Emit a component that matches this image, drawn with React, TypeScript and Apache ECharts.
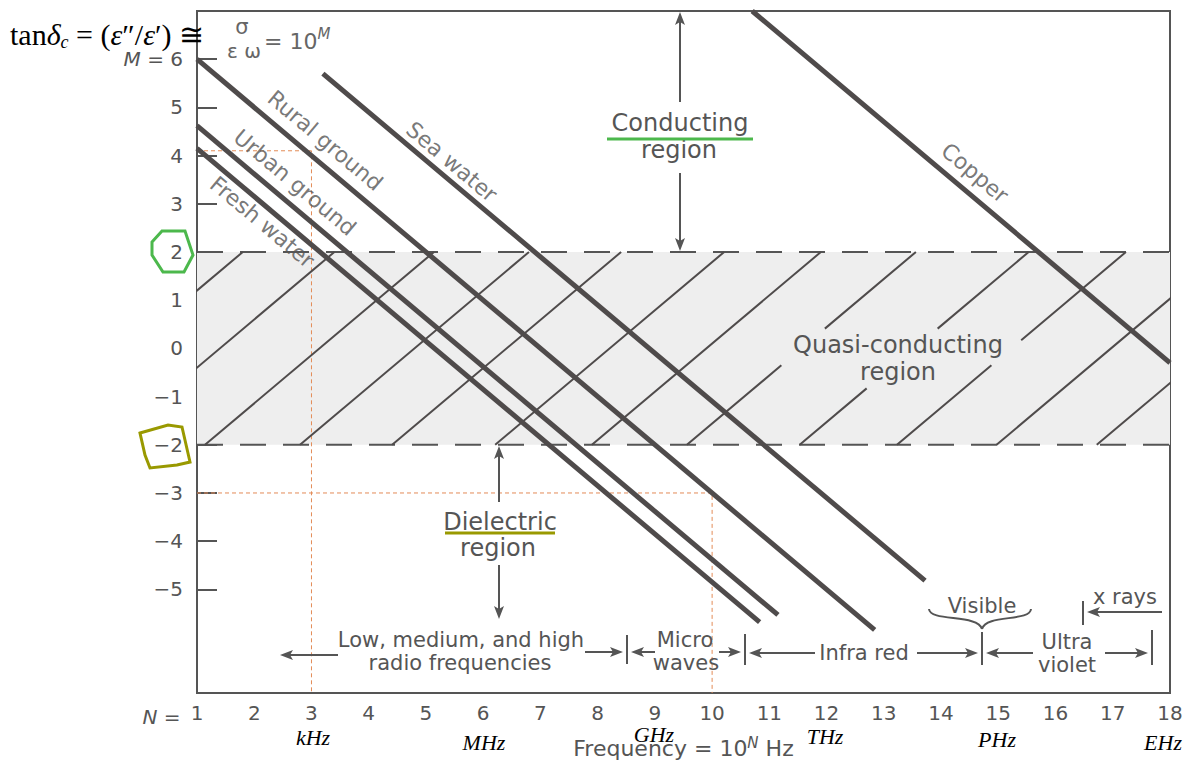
import React, { useEffect, useRef } from "react";
import * as echarts from "echarts";

// ---------- data ----------
const nLabelValues = [1, 2, 3, 4, 5, 6, 7, 8, 9, 10, 11, 12, 13, 14, 15, 16, 17, 18];
const nTickValues = [2, 3, 4, 5, 6, 7, 8, 9, 10, 11, 12, 13, 14, 15, 16, 17];
const mTickValues = [-5, -4, -3, -2, -1, 0, 1, 2, 3, 4, 5, 6];

const ruralGround = [[1, 6.0], [12.84, -5.84]];
const urbanGround = [[1, 4.62], [11.15, -5.53]];
const freshWater = [[1, 4.15], [10.83, -5.68]];
const seaWater = [[3.2, 5.7], [13.72, -4.82]];
const copper = [[10.7, 7.0], [18, -0.3]];

const media = [
  { name: "Rural ground", data: ruralGround },
  { name: "Urban ground", data: urbanGround },
  { name: "Fresh water", data: freshWater },
  { name: "Sea water", data: seaWater },
  { name: "Copper", data: copper },
];

const lineLabelNames = ["Rural ground", "Urban ground", "Fresh water", "Sea water", "Copper"];
const lineLabelN = [3.24, 2.71, 2.14, 5.45, 14.59];
const lineLabelM = [4.31, 3.44, 2.62, 3.87, 3.64];

// hatch segments in the quasi-conducting band [[N, M], [N, M]]
const hatchSegments = [
  [[-2.2, -2], [1.8, 2]],
  [[-0.6, -2], [3.4, 2]],
  [[1.14, -2], [5.14, 2]],
  [[2.8, -2], [6.8, 2]],
  [[4.41, -2], [8.41, 2]],
  [[6.21, -2], [10.21, 2]],
  [[7.9, -2], [11.9, 2]],
  [[9.56, -2], [11.21, -0.35]],
  [[11.97, 0.41], [13.56, 2]],
  [[11.53, -2], [12.7, -0.83]],
  [[13.94, 0.41], [15.53, 2]],
  [[13.23, -2], [14.88, -0.35]],
  [[15.4, 0.17], [17.23, 2]],
  [[14.97, -2], [18.97, 2]],
  [[16.72, -2], [20.72, 2]],
];

const bandLimits = [-2, 2];
const guideLineA = [[1, 4.1], [3, 4.1], [3, -7.15]];
const guideLineB = [[1, -3], [10, -3], [10, -7.15]];

const M_MIN = -7.15;
const M_MAX = 7.0;

// ---------- styles ----------
const FONT = '"DejaVu Sans", "Liberation Sans", sans-serif';
const SERIF = '"Liberation Serif", "DejaVu Serif", serif';
const INK = "#555555";
const LINE = "#4f4b4b";

function arrow(x1: number, y1: number, x2: number, y2: number) {
  const dx = x2 - x1;
  const dy = y2 - y1;
  const L = Math.hypot(dx, dy);
  const ux = dx / L;
  const uy = dy / L;
  const hl = 13;
  const hw = 5;
  const bx = x2 - ux * hl;
  const by = y2 - uy * hl;
  return [
    {
      type: "line",
      shape: { x1, y1, x2: bx + ux * 3, y2: by + uy * 3 },
      style: { stroke: INK, lineWidth: 2 },
      silent: true,
    },
    {
      type: "polygon",
      shape: {
        points: [
          [x2, y2],
          [bx - uy * hw, by + ux * hw],
          [bx + ux * 3, by + uy * 3],
          [bx + uy * hw, by - ux * hw],
        ],
      },
      style: { fill: INK },
      silent: true,
    },
  ];
}

function txt(text: string, x: number, y: number, size: number, extra: any = {}) {
  return {
    type: "text",
    x,
    y,
    silent: true,
    style: {
      text,
      font: `${size}px ${FONT}`,
      fill: INK,
      align: "center",
      verticalAlign: "middle",
      ...extra,
    },
  };
}

function vtick(x: number, y1: number, y2: number) {
  return {
    type: "line",
    shape: { x1: x, y1, x2: x, y2 },
    style: { stroke: INK, lineWidth: 2 },
    silent: true,
  };
}

export default function App() {
  const ref = useRef<HTMLDivElement>(null);

  useEffect(() => {
    if (!ref.current) return;
    const chart = echarts.init(ref.current, null, { renderer: "svg" });

    const series: any[] = [];

    // band fill + dashed limits
    bandLimits.forEach((m, i) => {
      series.push({
        type: "line",
        data: [[1, m], [18, m]],
        symbol: "none",
        silent: true,
        z: 3,
        lineStyle: { color: INK, width: 2, type: [26, 17] },
        markArea:
          i === 0
            ? {
                silent: true,
                itemStyle: { color: "#eeeeee" },
                data: [[{ yAxis: bandLimits[0] }, { yAxis: bandLimits[1] }]],
              }
            : undefined,
      });
    });

    // orange guide lines
    [guideLineA, guideLineB].forEach((d) => {
      series.push({
        type: "line",
        data: d,
        symbol: "none",
        silent: true,
        z: 2,
        lineStyle: { color: "#e38b57", width: 1, type: [4, 3] },
      });
    });

    // hatch
    hatchSegments.forEach((seg) => {
      series.push({
        type: "line",
        data: seg,
        symbol: "none",
        silent: true,
        clip: true,
        z: 4,
        lineStyle: { color: LINE, width: 2 },
      });
    });

    // media lines
    media.forEach((m) => {
      series.push({
        type: "line",
        name: m.name,
        data: m.data,
        symbol: "none",
        silent: true,
        clip: true,
        z: 5,
        lineStyle: { color: LINE, width: 5, cap: "butt" },
      });
    });

    // line labels
    series.push({
      type: "scatter",
      symbolSize: 0,
      silent: true,
      z: 6,
      data: lineLabelNames.map((name, i) => ({ name, value: [lineLabelN[i], lineLabelM[i]] })),
      label: {
        show: true,
        position: "inside",
        formatter: "{b}",
        rotate: -40,
        fontSize: 22,
        fontFamily: FONT,
        color: INK,
      },
    });

    const graphicsRaw: any[] = [
      // formula
      {
        type: "text",
        x: 10,
        y: 34,
        silent: true,
        style: {
          text: "tan{it|δ}{sub|c} = ({it|ε}″/{it|ε}′) ≅",
          font: `30px ${SERIF}`,
          fill: "#000",
          align: "left",
          verticalAlign: "middle",
          rich: {
            it: { font: `italic 30px ${SERIF}`, fill: "#000" },
            sub: { font: `italic 18px ${SERIF}`, fill: "#000", padding: [16, 0, 0, 0] },
          },
        },
      },
      txt("σ", 242, 27, 21, { fill: "#666" }),
      txt("ε ω", 244, 51, 20, { fill: "#666" }),
      {
        type: "text",
        x: 264,
        y: 41,
        silent: true,
        style: {
          text: "= 10{sup|M}",
          font: `22px ${FONT}`,
          fill: "#666",
          align: "left",
          verticalAlign: "middle",
          rich: {
            sup: { font: `italic 15px ${FONT}`, fill: "#666", padding: [0, 0, 14, 0] },
          },
        },
      },
      // N =
      {
        type: "text",
        x: 187,
        y: 717,
        silent: true,
        style: {
          text: "{it|N} = ",
          font: `20px ${FONT}`,
          fill: INK,
          align: "right",
          verticalAlign: "middle",
          rich: { it: { font: `italic 20px ${FONT}`, fill: INK } },
        },
      },
      // regions
      txt("Conducting", 680, 123, 24),
      txt("region", 679, 150, 24),
      {
        type: "line",
        shape: { x1: 607, y1: 139, x2: 753, y2: 139 },
        style: { stroke: "#4cb84c", lineWidth: 3 },
        silent: true,
      },
      ...arrow(680, 102, 680, 12),
      ...arrow(680, 173, 680, 251),
      txt("Quasi-conducting", 898, 345, 24),
      txt("region", 898, 372, 24),
      txt("Dielectric", 500, 522, 24),
      txt("region", 498, 548, 24),
      {
        type: "line",
        shape: { x1: 445, y1: 533, x2: 555, y2: 533 },
        style: { stroke: "#999900", lineWidth: 3 },
        silent: true,
      },
      ...arrow(499, 502, 499, 446),
      ...arrow(499, 565, 499, 619),
      // spectrum bands
      txt("Low, medium, and high", 461, 640, 21),
      txt("radio frequencies", 460, 663, 21),
      ...arrow(338, 655, 280, 655),
      ...arrow(585, 652, 623, 652),
      vtick(627, 635, 664),
      ...arrow(655, 652, 631, 652),
      txt("Micro", 685, 640, 21),
      txt("waves", 686, 663, 21),
      ...arrow(719, 652, 741, 652),
      vtick(745, 634, 665),
      ...arrow(815, 653, 749, 653),
      txt("Infra red", 864, 653, 21),
      ...arrow(917, 653, 978, 653),
      vtick(982, 632, 665),
      ...arrow(1033, 653, 986, 653),
      txt("Ultra", 1067, 642, 21),
      txt("violet", 1067, 665, 21),
      ...arrow(1105, 653, 1148, 653),
      vtick(1152, 630, 665),
      txt("Visible", 982, 606, 21),
      {
        type: "bezierCurve",
        shape: { x1: 929, y1: 609, cpx1: 930, cpy1: 622, cpx2: 978, cpy2: 614, x2: 982, y2: 629 },
        style: { stroke: INK, lineWidth: 2, fill: null },
        silent: true,
      },
      {
        type: "bezierCurve",
        shape: { x1: 1031, y1: 609, cpx1: 1030, cpy1: 622, cpx2: 986, cpy2: 614, x2: 982, y2: 629 },
        style: { stroke: INK, lineWidth: 2, fill: null },
        silent: true,
      },
      txt("x rays", 1125, 597, 21),
      ...arrow(1162, 612, 1087, 612),
      vtick(1083, 601, 625),
      // frequency units
      ...[
        ["kHz", 313, 737],
        ["MHz", 484, 742],
        ["GHz", 654, 734],
        ["THz", 825, 736],
        ["PHz", 997, 739],
        ["EHz", 1163, 742],
      ].map(([t, x, y]) => ({
        type: "text",
        x,
        y,
        silent: true,
        style: {
          text: t,
          font: `italic 22px ${SERIF}`,
          fill: "#000",
          align: "center",
          verticalAlign: "middle",
        },
      })),
      // highlight shapes
      {
        type: "polygon",
        shape: {
          points: [
            [152, 242],
            [162, 231],
            [185, 231],
            [193, 255],
            [184, 272],
            [163, 272],
            [152, 255],
          ],
        },
        style: { stroke: "#4cb84c", lineWidth: 3, fill: null },
        silent: true,
      },
      {
        type: "polygon",
        shape: {
          points: [
            [140, 433],
            [168, 425],
            [182, 427],
            [190, 462],
            [177, 465],
            [150, 468],
            [145, 455],
          ],
        },
        style: { stroke: "#999900", lineWidth: 3, fill: null },
        silent: true,
      },
    ];
    const graphics = graphicsRaw.map((g) => ({ ...g, z: 100 }));

    chart.setOption({
      animation: false,
      backgroundColor: "#ffffff",
      grid: {
        left: 197,
        right: 25,
        top: 11,
        bottom: 69,
        show: true,
        borderColor: INK,
        borderWidth: 2,
        backgroundColor: "transparent",
        containLabel: false,
        outerBoundsMode: "none",
      },
      xAxis: {
        type: "value",
        min: 1,
        max: 18,
        axisLine: { show: false },
        splitLine: { show: false },
        axisTick: {
          show: true,
          inside: true,
          length: 16,
          customValues: nTickValues,
          lineStyle: { color: INK, width: 2 },
        },
        axisLabel: {
          show: true,
          customValues: nLabelValues,
          margin: 10,
          fontSize: 20,
          fontFamily: FONT,
          color: INK,
          formatter: (v: number) => String(v),
        },
        name: "Frequency = 10{sup|N} Hz",
        nameLocation: "middle",
        nameGap: 42,
        nameTextStyle: {
          fontSize: 22,
          fontFamily: FONT,
          color: INK,
          rich: {
            sup: { fontSize: 15, fontStyle: "italic", fontFamily: FONT, color: INK, padding: [0, 0, 12, 0] },
          },
        },
      },
      yAxis: {
        type: "value",
        min: M_MIN,
        max: M_MAX,
        axisLine: { show: false },
        splitLine: { show: false },
        axisTick: {
          show: true,
          inside: true,
          length: 20,
          customValues: mTickValues,
          lineStyle: { color: INK, width: 2 },
        },
        axisLabel: {
          show: true,
          customValues: mTickValues,
          margin: 14,
          fontSize: 20,
          fontFamily: FONT,
          color: INK,
          formatter: (v: number) => (v === 6 ? "{it|M} = 6" : v < 0 ? "−" + Math.abs(v) : String(v)),
          rich: { it: { fontSize: 20, fontStyle: "italic", fontFamily: FONT, color: INK } },
        },
      },
      series,
      graphic: graphics,
    });

    return () => {
      chart.dispose();
    };
  }, []);

  return (
    <div
      ref={ref}
      style={{ position: "fixed", left: 0, top: 0, width: 1195, height: 762, background: "#fff" }}
    />
  );
}
